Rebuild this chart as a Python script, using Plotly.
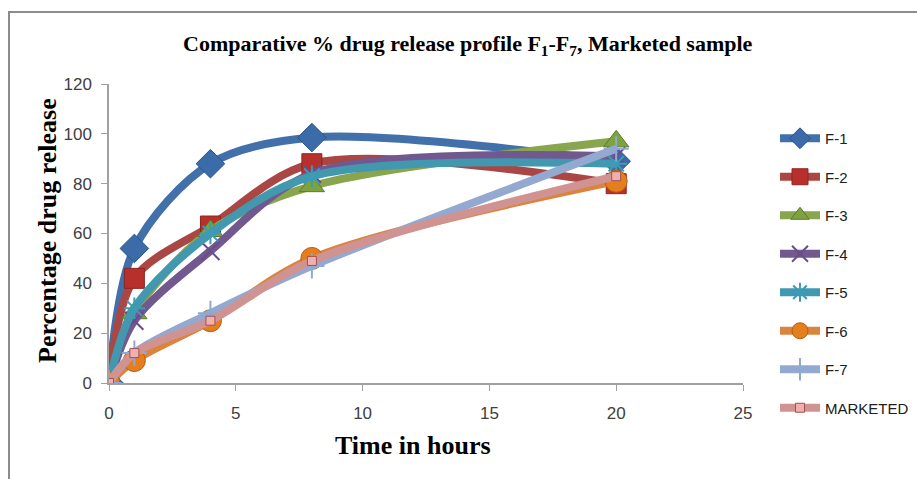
import plotly.graph_objects as go

# Sampling times (hours)
time_h = [0, 1, 4, 8, 20]

# Cumulative % drug release per formulation
f1 = [0, 54, 88, 98.5, 89]
f2 = [0, 42, 63, 88, 80]
f3 = [0, 28, 61, 79, 97]
f4 = [0, 25, 53, 84, 91]
f5 = [0, 30, 60, 83, 88]
f6 = [0, 9, 25, 50, 81]
f7 = [0, 12, 28, 47, 94]
marketed = [0, 12, 25, 49, 83]

series_names = ["F-1", "F-2", "F-3", "F-4", "F-5", "F-6", "F-7", "MARKETED"]
series_values = [f1, f2, f3, f4, f5, f6, f7, marketed]

line_colors = ["#4170AA", "#AA4643", "#89A54E", "#71588F",
               "#4198AF", "#DB843D", "#93A9CF", "#D19392"]
marker_styles = [
    dict(symbol="diamond", size=22, color="#3C6BAA", line=dict(color="#2D5488", width=1)),
    dict(symbol="square", size=20, color="#B8302C", line=dict(color="#8E2422", width=1)),
    dict(symbol="triangle-up", size=22, color="#7EA23D", line=dict(color="#5E7C2A", width=1)),
    dict(symbol="x-thin-open", size=18, color="#6A4C8C", line=dict(color="#6A4C8C", width=2)),
    dict(symbol="asterisk-open", size=18, color="#3C9BB5", line=dict(color="#3C9BB5", width=2)),
    dict(symbol="circle", size=22, color="#E57E1E", line=dict(color="#B8600F", width=1)),
    dict(symbol="cross-thin-open", size=18, color="#8FA9D6", line=dict(color="#8FA9D6", width=2)),
    dict(symbol="square", size=9, color="#F0B0B0", line=dict(color="#A05050", width=1)),
]

fig = go.Figure()
for i, (name, vals) in enumerate(zip(series_names, series_values)):
    fig.add_trace(go.Scatter(
        x=time_h, y=vals, name=name, mode="lines+markers",
        line=dict(color=line_colors[i], width=8, shape="spline", smoothing=0.9),
        marker=marker_styles[i],
        legendgroup=name,
    ))

W, H = 917, 479
L, R, T, B = 109, 174, 84, 96
pw, ph = W - L - R, H - T - B

def px_x(px):
    return (px - L) / pw

def px_y(py):
    return (H - B - py) / ph

tick_font = dict(family="Liberation Sans", size=17, color="#404040")
title_font = dict(family="Liberation Serif", size=22, color="black")
axis_title_font = dict(family="Liberation Serif", size=26, color="black")

fig.update_layout(
    width=W, height=H,
    margin=dict(l=L, r=R, t=T, b=B),
    paper_bgcolor="white", plot_bgcolor="white",
    showlegend=True,
    legend=dict(
        xref="container", yref="container",
        x=775 / W, y=1 - 122 / H, xanchor="left", yanchor="top",
        font=dict(family="Liberation Sans", size=15, color="#202020"),
        tracegroupgap=16, itemwidth=40, bgcolor="rgba(0,0,0,0)",
        maxheight=1.0,
    ),
    xaxis=dict(
        range=[0, 25], tickvals=[0, 5, 10, 15, 20, 25],
        showgrid=False, zeroline=False, showline=True,
        linecolor="#A0A0A0", linewidth=1.5,
        ticks="outside", ticklen=6, tickcolor="#A0A0A0",
        tickfont=tick_font, ticklabelstandoff=8,
    ),
    yaxis=dict(
        range=[0, 120], tickvals=[0, 20, 40, 60, 80, 100, 120],
        showgrid=False, zeroline=False, showline=True,
        linecolor="#A0A0A0", linewidth=1.5,
        ticks="outside", ticklen=6, tickcolor="#A0A0A0",
        tickfont=tick_font, ticklabelstandoff=6,
    ),
    annotations=[
        dict(text="<b>Comparative % drug release profile F<sub>1</sub>-F<sub>7</sub>, Marketed sample</b>",
             xref="paper", yref="paper", x=px_x(468), y=px_y(45),
             xanchor="center", yanchor="middle", showarrow=False, font=title_font),
        dict(text="<b>Time in hours</b>",
             xref="paper", yref="paper", x=px_x(413), y=px_y(445),
             xanchor="center", yanchor="middle", showarrow=False, font=axis_title_font),
        dict(text="<b>Percentage drug release</b>", textangle=-90,
             xref="paper", yref="paper", x=px_x(47), y=px_y(231),
             xanchor="center", yanchor="middle", showarrow=False, font=axis_title_font),
    ],
    shapes=[
        dict(type="rect", xref="paper", yref="paper",
             x0=px_x(9), x1=px_x(930), y0=px_y(495), y1=px_y(12),
             line=dict(color="#8C8C8C", width=2), layer="below"),
    ],
)

fig.write_html("out.html")
